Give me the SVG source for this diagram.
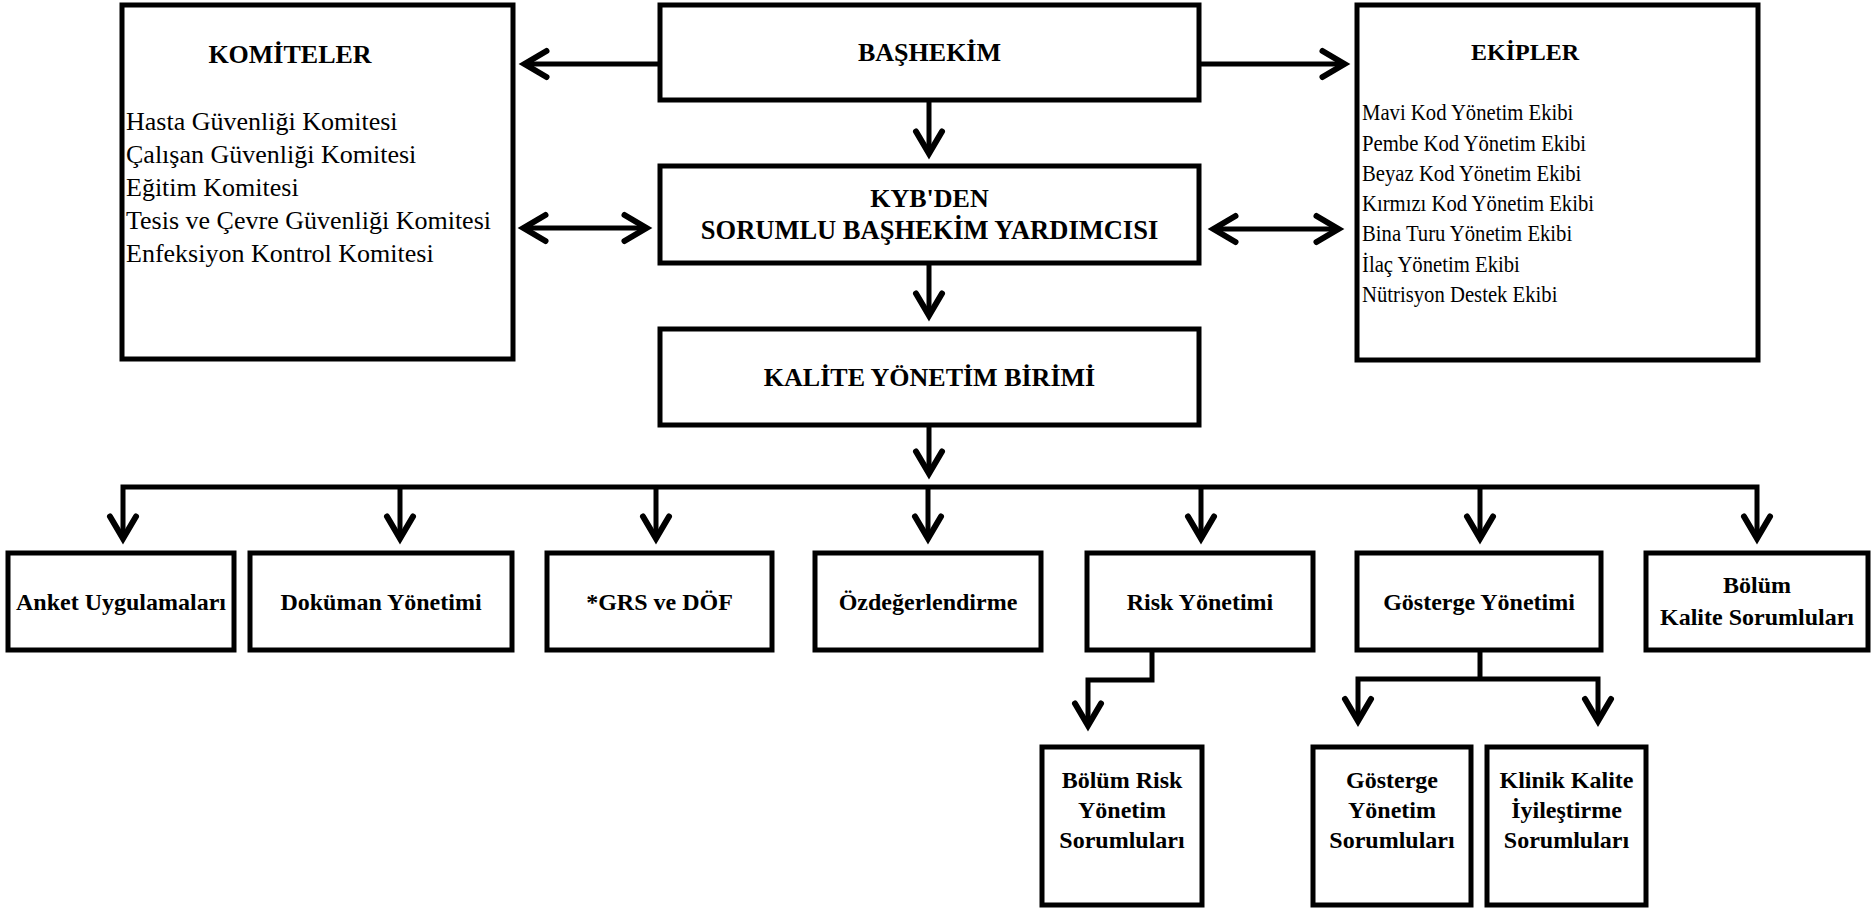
<svg xmlns="http://www.w3.org/2000/svg" width="1871" height="908" viewBox="0 0 1871 908">
<defs>
<style>
.box{fill:#fff;stroke:#000;stroke-width:5}
.ln{fill:none;stroke:#000;stroke-width:5;stroke-linejoin:miter}
.t{font-family:"Liberation Serif","Times New Roman",serif;fill:#000}
.b{font-weight:bold;font-size:24px;text-anchor:middle}
.h{font-weight:bold;font-size:26px;text-anchor:middle}
.r{font-size:26px}
.r2{font-size:23px}
</style>
<marker id="ah" viewBox="-30 -20 40 40" markerWidth="40" markerHeight="40" refX="0" refY="0" orient="auto-start-reverse" markerUnits="userSpaceOnUse" overflow="visible">
<path d="M-22,-13 L0,0 L-22,13" fill="none" stroke="#000" stroke-width="6" stroke-linecap="round" stroke-linejoin="miter"/>
</marker>
</defs>
<rect width="1871" height="908" fill="#fff"/>

<g id="connectors">
<line class="ln" x1="660" y1="64" x2="524.5" y2="64" stroke-width="4" marker-end="url(#ah)"/>
<line class="ln" x1="1199" y1="64" x2="1344.5" y2="64" stroke-width="4" marker-end="url(#ah)"/>
<line class="ln" x1="929" y1="100" x2="929" y2="153.5" marker-end="url(#ah)"/>
<line class="ln" x1="523.5" y1="228" x2="646.5" y2="228" stroke-width="4" marker-start="url(#ah)" marker-end="url(#ah)"/>
<line class="ln" x1="1213.5" y1="229" x2="1338.5" y2="229" stroke-width="4" marker-start="url(#ah)" marker-end="url(#ah)"/>
<line class="ln" x1="929" y1="263" x2="929" y2="315.5" marker-end="url(#ah)"/>
<line class="ln" x1="929" y1="425" x2="929" y2="473.5" marker-end="url(#ah)"/>
<path class="ln" d="M123,538.5 V487 H1757 V538.5" marker-start="url(#ah)" marker-end="url(#ah)"/>
<line class="ln" x1="400" y1="487" x2="400" y2="538.5" marker-end="url(#ah)"/>
<line class="ln" x1="656" y1="487" x2="656" y2="538.5" marker-end="url(#ah)"/>
<line class="ln" x1="928" y1="487" x2="928" y2="538.5" marker-end="url(#ah)"/>
<line class="ln" x1="1201" y1="487" x2="1201" y2="538.5" marker-end="url(#ah)"/>
<line class="ln" x1="1480" y1="487" x2="1480" y2="538.5" marker-end="url(#ah)"/>
<path class="ln" d="M1152,650 V680 H1088 V725.5" marker-end="url(#ah)"/>
<line class="ln" x1="1480" y1="650" x2="1480" y2="679"/>
<path class="ln" d="M1358,721 V679 H1598 V721" marker-start="url(#ah)" marker-end="url(#ah)"/>
</g>

<g id="komiteler">
<rect class="box" x="122" y="5" width="391" height="354"/>
<text class="t h" x="290" y="63">KOMİTELER</text>
<text class="t r" x="126" y="130">Hasta Güvenliği Komitesi</text>
<text class="t r" x="126" y="163">Çalışan Güvenliği Komitesi</text>
<text class="t r" x="126" y="196">Eğitim Komitesi</text>
<text class="t r" x="126" y="229">Tesis ve Çevre Güvenliği Komitesi</text>
<text class="t r" x="126" y="262">Enfeksiyon Kontrol Komitesi</text>
</g>

<g id="bashekim">
<rect class="box" x="660" y="5" width="539" height="95"/>
<text class="t h" x="929.5" y="61">BAŞHEKİM</text>
</g>

<g id="ekipler">
<rect class="box" x="1357" y="5" width="401" height="355"/>
<text class="t b" x="1525" y="60">EKİPLER</text>
<g transform="matrix(0.9,0,0,1,136.2,0)">
<text class="t r2" x="1362" y="120">Mavi Kod Yönetim Ekibi</text>
<text class="t r2" x="1362" y="151">Pembe Kod Yönetim Ekibi</text>
<text class="t r2" x="1362" y="181">Beyaz Kod Yönetim Ekibi</text>
<text class="t r2" x="1362" y="211">Kırmızı Kod Yönetim Ekibi</text>
<text class="t r2" x="1362" y="241">Bina Turu Yönetim Ekibi</text>
<text class="t r2" x="1362" y="272">İlaç Yönetim Ekibi</text>
<text class="t r2" x="1362" y="302">Nütrisyon Destek Ekibi</text>
</g>
</g>

<g id="kyb">
<rect class="box" x="660" y="166" width="539" height="97"/>
<text class="t h" x="929.5" y="207">KYB'DEN</text>
<text class="t h" x="929.5" y="239" style="font-size:26.5px">SORUMLU BAŞHEKİM YARDIMCISI</text>
</g>

<g id="kalite">
<rect class="box" x="660" y="329" width="539" height="96"/>
<text class="t h" x="929.5" y="386">KALİTE YÖNETİM BİRİMİ</text>
</g>

<g id="anket">
<rect class="box" x="8" y="553" width="226" height="97"/>
<text class="t b" x="121" y="610">Anket Uygulamaları</text>
</g>
<g id="dokuman">
<rect class="box" x="250" y="553" width="262" height="97"/>
<text class="t b" x="381" y="610">Doküman Yönetimi</text>
</g>
<g id="grs">
<rect class="box" x="547" y="553" width="225" height="97"/>
<text class="t b" x="659.5" y="610">*GRS ve DÖF</text>
</g>
<g id="ozdegerlendirme">
<rect class="box" x="815" y="553" width="226" height="97"/>
<text class="t b" x="928" y="610">Özdeğerlendirme</text>
</g>
<g id="risk">
<rect class="box" x="1087" y="553" width="226" height="97"/>
<text class="t b" x="1200" y="610">Risk Yönetimi</text>
</g>
<g id="gosterge">
<rect class="box" x="1357" y="553" width="244" height="97"/>
<text class="t b" x="1479" y="610">Gösterge Yönetimi</text>
</g>
<g id="bolum-kalite">
<rect class="box" x="1646" y="553" width="222" height="97"/>
<text class="t b" x="1757" y="593">Bölüm</text>
<text class="t b" x="1757" y="625">Kalite Sorumluları</text>
</g>

<g id="bolum-risk">
<rect class="box" x="1042" y="747" width="160" height="158"/>
<text class="t b" x="1122" y="788">Bölüm Risk</text>
<text class="t b" x="1122" y="818">Yönetim</text>
<text class="t b" x="1122" y="848">Sorumluları</text>
</g>
<g id="gosterge-sorumlulari">
<rect class="box" x="1313" y="747" width="158" height="158"/>
<text class="t b" x="1392" y="788">Gösterge</text>
<text class="t b" x="1392" y="818">Yönetim</text>
<text class="t b" x="1392" y="848">Sorumluları</text>
</g>
<g id="klinik-kalite">
<rect class="box" x="1487" y="747" width="159" height="158"/>
<text class="t b" x="1566.5" y="788">Klinik Kalite</text>
<text class="t b" x="1566.5" y="818">İyileştirme</text>
<text class="t b" x="1566.5" y="848">Sorumluları</text>
</g>
</svg>
